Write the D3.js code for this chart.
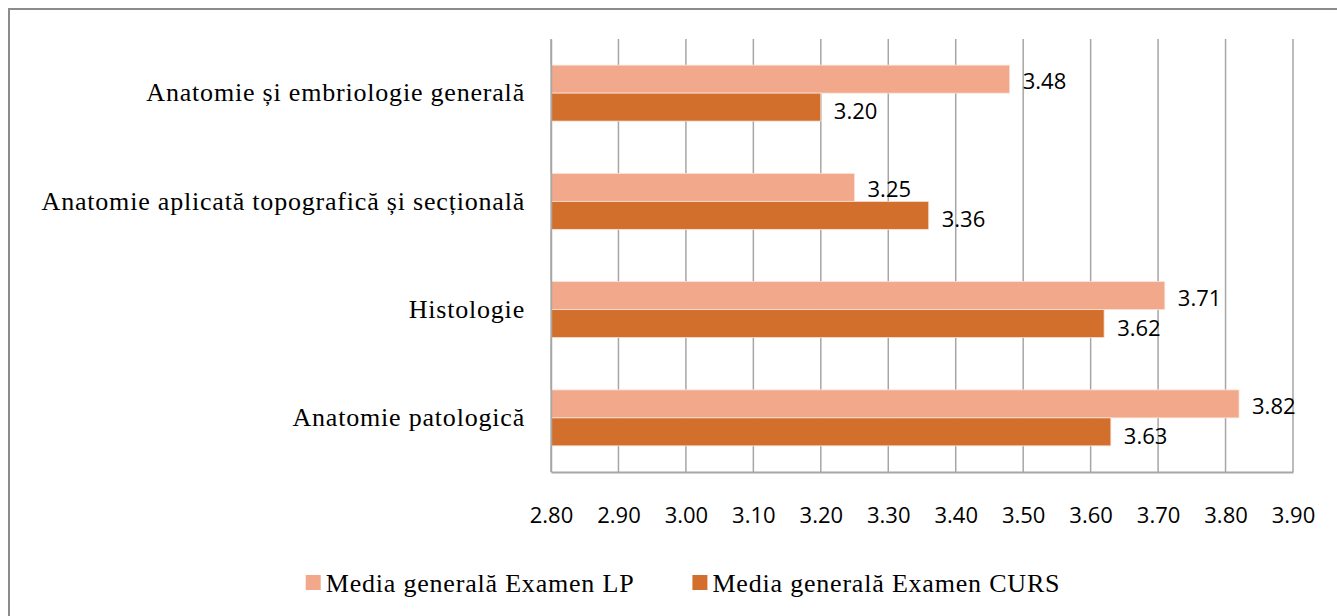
<!DOCTYPE html>
<html>
<head>
<meta charset="utf-8">
<script src="https://cdn.jsdelivr.net/npm/d3@7"></script>
<style>
  body { margin: 0; background: #fff; }
  svg { display: block; }
</style>
</head>
<body>
<div id="chart"></div>
<script>
const categories = [
  "Anatomie și embriologie generală",
  "Anatomie aplicată topografică și secțională",
  "Histologie",
  "Anatomie patologică"
];
const seriesNames = ["Media generală Examen LP", "Media generală Examen CURS"];
const lpValues = [3.48, 3.25, 3.71, 3.82];
const cursValues = [3.20, 3.36, 3.62, 3.63];
const xTicks = [2.8, 2.9, 3.0, 3.1, 3.2, 3.3, 3.4, 3.5, 3.6, 3.7, 3.8, 3.9];

const colors = ["#F2A88B", "#D36F2C"];

const width = 1337;
const height = 616;
const margin = { top: 39, right: 44, bottom: 144, left: 551 };

const svg = d3.select("#chart")
  .append("svg")
  .attr("width", width)
  .attr("height", height);

// outer chart border (cut off on right and bottom)
svg.append("path")
  .attr("d", `M9,${height + 5} V9 H${width + 5}`)
  .attr("fill", "none")
  .attr("stroke", "#8c8c8c")
  .attr("stroke-width", 2);

const xScale = d3.scaleLinear()
  .domain([2.8, 3.9])
  .range([margin.left, width - margin.right]);

const yScale = d3.scaleBand()
  .domain(categories)
  .range([margin.top, height - margin.bottom])
  .paddingInner(0.483)
  .paddingOuter(0.2415);

const ySub = d3.scaleBand()
  .domain(seriesNames)
  .range([0, yScale.bandwidth()]);

// gridlines
svg.append("g")
  .selectAll("line")
  .data(xTicks)
  .join("line")
  .attr("x1", d => xScale(d))
  .attr("x2", d => xScale(d))
  .attr("y1", margin.top)
  .attr("y2", height - margin.bottom)
  .attr("stroke", "#a6a6a6")
  .attr("stroke-width", 1.5);

const rows = categories.map((c, i) => ({ cat: c, vals: [lpValues[i], cursValues[i]] }));

const groups = svg.append("g")
  .selectAll("g")
  .data(rows)
  .join("g")
  .attr("transform", d => `translate(0,${yScale(d.cat)})`);

groups.selectAll("rect")
  .data(d => d.vals.map((v, j) => ({ v, s: seriesNames[j], j })))
  .join("rect")
  .attr("x", xScale(2.8))
  .attr("y", d => ySub(d.s))
  .attr("width", d => xScale(d.v) - xScale(2.8))
  .attr("height", ySub.bandwidth())
  .attr("fill", d => colors[d.j])
  .attr("stroke", "#fbe3d6")
  .attr("stroke-width", 0.8);

groups.selectAll("text")
  .data(d => d.vals.map((v, j) => ({ v, s: seriesNames[j], j })))
  .join("text")
  .attr("x", d => xScale(d.v) + 13)
  .attr("y", d => ySub(d.s) + ySub.bandwidth() / 2 + 1 + d.j * 2)
  .attr("dominant-baseline", "central")
  .attr("font-family", "'Open Sans', sans-serif")
  .attr("font-size", 22)
  .attr("fill", "#000")
  .text(d => d.v.toFixed(2));

// axes
const xAxis = svg.append("g")
  .attr("transform", `translate(0,${height - margin.bottom})`)
  .call(d3.axisBottom(xScale).tickValues(xTicks).tickFormat(d3.format(".2f")).tickSize(0).tickPadding(35));
xAxis.select(".domain").attr("stroke", "#a6a6a6").attr("stroke-width", 2);
xAxis.selectAll("text")
  .attr("font-family", "'Open Sans', sans-serif")
  .attr("font-size", 22)
  .attr("fill", "#000");

const yAxis = svg.append("g")
  .attr("transform", `translate(${margin.left},0)`)
  .call(d3.axisLeft(yScale).tickSize(0).tickPadding(26));
yAxis.select(".domain").attr("stroke", "#a6a6a6").attr("stroke-width", 1.5);
yAxis.selectAll("text")
  .attr("font-family", "'Liberation Serif', serif")
  .attr("font-size", 26)
  .attr("letter-spacing", 0.8)
  .attr("fill", "#000");

// legend
const legend = svg.append("g");
const items = legend.selectAll("g")
  .data(seriesNames)
  .join("g");
items.append("rect")
  .attr("width", 15)
  .attr("height", 15)
  .attr("y", -8)
  .attr("fill", (d, i) => colors[i]);
items.append("text")
  .attr("x", 20)
  .attr("dominant-baseline", "central")
  .attr("font-family", "'Liberation Serif', serif")
  .attr("font-size", 26)
  .attr("letter-spacing", 0.8)
  .attr("fill", "#000")
  .text(d => d);

let offset = 0;
const itemGap = 58;
items.each(function () {
  const w = this.getBBox().width;
  d3.select(this).attr("transform", `translate(${offset},0)`);
  offset += w + itemGap;
});
const totalWidth = offset - itemGap;
legend.attr("transform", `translate(${683 - totalWidth / 2},583)`);
</script>
</body>
</html>
